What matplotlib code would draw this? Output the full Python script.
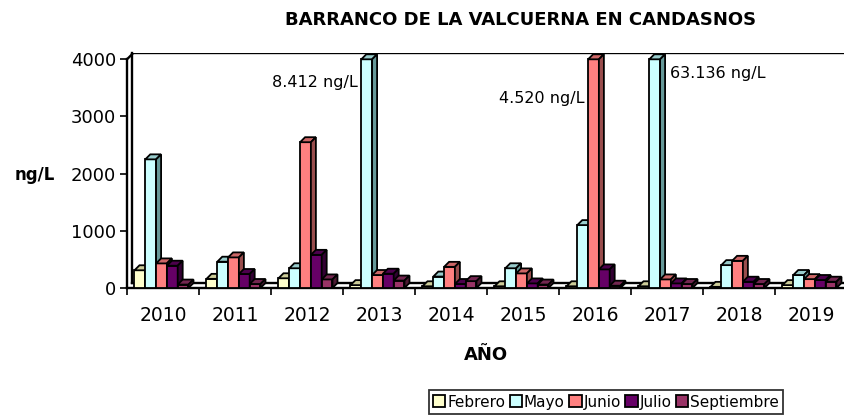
import numpy as np
import matplotlib
matplotlib.use('Agg')
import matplotlib.pyplot as plt
from matplotlib.patches import Polygon, Patch

plt.rcParams['font.family'] = ['DejaVu Sans']

years = ['2010', '2011', '2012', '2013', '2014', '2015', '2016', '2017', '2018', '2019']
series = ['Febrero', 'Mayo', 'Junio', 'Julio', 'Septiembre']
# values in ng/L (bars above 4000 are cut at the axis top, real value written as note)
febrero = [310, 160, 170, 50, 30, 30, 30, 30, 20, 50]
mayo = [2250, 460, 345, 4000, 200, 345, 1100, 4000, 400, 227]
junio = [430, 535, 2550, 227, 370, 255, 4000, 150, 475, 155]
julio = [390, 245, 580, 250, 70, 80, 325, 80, 110, 140]
septiembre = [60, 70, 150, 130, 120, 60, 40, 70, 70, 110]
notes = ['8.412 ng/L', '4.520 ng/L', '63.136 ng/L']

fronts = ['#FFFFCC', '#CCFFFF', '#FF8080', '#660066', '#993366']
tops = ['#CCCC99', '#99CCCC', '#CC6666', '#4D004D', '#732650']
sides = ['#999966', '#669999', '#994D4D', '#330033', '#4D1A33']

W, H = 844, 419
fig = plt.figure(figsize=(W / 100, H / 100), dpi=100)
# axes in pixel geometry
px_l, px_r, px_b, px_t = 127, 847, 288, 53
ax = fig.add_axes([px_l / W, 1 - px_b / H, (px_r - px_l) / W, (px_b - px_t) / H])
ppu = (288 - 59.3) / 4000.0
ytop = (px_b - px_t) / ppu
ax.set_xlim(-0.5, 9.5)
ax.set_ylim(0, ytop)
for s in ax.spines.values():
    s.set_visible(False)

DX = 5 / 72.0
DY = 5 / ppu
bw = 0.15
off = 0.104
lw = 1.3

# walls and floor
k = dict(color='black', lw=1.7, zorder=1, clip_on=False)
ax.plot([-0.5, -0.5], [0, 4000], **k)
ax.plot([-0.5 + DX, -0.5 + DX], [DY, ytop], **k)
ax.plot([-0.5, -0.5 + DX], [4000, 4000 + DY], **k)
ax.plot([-0.5 + DX, 9.5], [ytop - 1, ytop - 1], color='black', lw=1.7, zorder=1)
ax.plot([-0.5, 9.5], [0, 0], **k)
ax.plot([-0.5 + DX, 9.5], [DY, DY], color='black', lw=1.7, zorder=1)

data = [febrero, mayo, junio, julio, septiembre]
for j, vals in enumerate(data):
    x = np.arange(len(years)) - 0.5 + off + j * bw
    ax.bar(x, vals, width=bw, align='edge', color=fronts[j], edgecolor='black',
           linewidth=lw, zorder=3 + j)
    for xi, v in zip(x, vals):
        top = [(xi, v), (xi + DX, v + DY), (xi + bw + DX, v + DY), (xi + bw, v)]
        side = [(xi + bw, 0), (xi + bw + DX, DY), (xi + bw + DX, v + DY), (xi + bw, v)]
        ax.add_patch(Polygon(top, closed=True, facecolor=tops[j], edgecolor='black',
                             linewidth=lw, zorder=3 + j))
        ax.add_patch(Polygon(side, closed=True, facecolor=sides[j], edgecolor='black',
                             linewidth=lw, zorder=3 + j))

# ticks
ax.set_yticks([0, 1000, 2000, 3000, 4000])
ax.set_yticklabels(['0', '1000', '2000', '3000', '4000'], fontsize=13)
ax.tick_params(axis='y', length=5, width=1.2, pad=3)
ax.set_xticks(np.arange(-0.5, 10, 1), minor=True)
ax.set_xticks(np.arange(len(years)))
ax.set_xticklabels(years, fontsize=13.5)
ax.tick_params(axis='x', which='major', length=0, pad=13)
ax.tick_params(axis='x', which='minor', length=5, width=1.2)

# notes for bars beyond the axis
ax.text(2.71, 3600, notes[0], fontsize=11.5, ha='right', va='center', zorder=10)
ax.text(5.86, 3323, notes[1], fontsize=11.5, ha='right', va='center', zorder=10)
ax.text(7.04, 3743, notes[2], fontsize=11.5, ha='left', va='center', zorder=10)

fig.text(521 / W, 1 - 20 / H, 'BARRANCO DE LA VALCUERNA EN CANDASNOS', fontsize=13,
         fontweight='bold', ha='center', va='center')
fig.text(35 / W, 1 - 175 / H, 'ng/L', fontsize=12, fontweight='bold', ha='center', va='center')
fig.text(486 / W, 1 - 355 / H, 'AÑO', fontsize=13, fontweight='bold', ha='center', va='center')

handles = [Patch(facecolor=fronts[j], edgecolor='black', linewidth=1.3) for j in range(5)]
leg = fig.legend(handles, series, ncol=5, loc='center', bbox_to_anchor=(606 / W, 1 - 402 / H),
                 fontsize=11, frameon=True, fancybox=False, handlelength=0.8, handleheight=0.8,
                 handletextpad=0.12, columnspacing=0.3, borderpad=0.3, borderaxespad=0)
leg.get_frame().set_edgecolor('black')
leg.get_frame().set_linewidth(1.3)

fig.savefig('out.png', dpi=100)
